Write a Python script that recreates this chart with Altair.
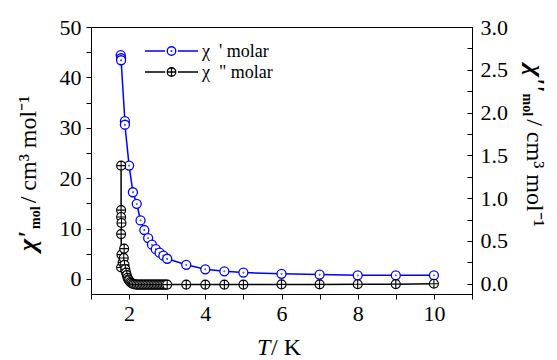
import altair as alt
import pandas as pd

# ---------------- data ----------------
T_real = [1.78, 1.79, 1.79, 1.89, 1.89, 2.0, 2.1, 2.2, 2.3, 2.4, 2.5, 2.6, 2.7, 2.8, 2.9, 3.0,
          3.5, 4.0, 4.5, 5.0, 6.0, 7.0, 8.0, 9.0, 10.0]
chi_real = [44.4, 43.8, 43.4, 31.3, 30.6, 22.5, 17.2, 14.9, 11.6, 9.7, 8.1, 6.8, 5.9, 5.2, 4.6, 4.0,
            2.8, 1.9, 1.5, 1.25, 1.0, 0.85, 0.7, 0.7, 0.7]

T_imag = [1.79, 1.79, 1.79, 1.80, 1.79, 1.80, 1.79, 1.83, 1.87, 1.86, 1.88, 1.90, 1.92, 1.94, 1.96,
          1.98, 2.00, 2.03, 2.06, 2.09,
          2.12, 2.16, 2.20, 2.24, 2.28, 2.32, 2.36, 2.40, 2.44, 2.48, 2.52, 2.56, 2.60, 2.64, 2.68,
          2.72, 2.76, 2.80, 2.84, 2.88, 2.92, 2.96, 3.00,
          3.5, 4.0, 4.5, 5.0, 6.0, 7.0, 8.0, 9.0, 10.0]
chi_imag = [1.38, 0.86, 0.78, 0.71, 0.58, 0.34, 0.19, 0.25, 0.41, 0.30, 0.22, 0.17, 0.13, 0.10, 0.07,
            0.05, 0.04, 0.02, 0.01, 0.00,
            -0.005, -0.008, -0.01, -0.01, -0.01, -0.01, -0.01, -0.01, -0.01, -0.01, -0.01, -0.01,
            -0.01, -0.01, -0.01, -0.01, -0.01, -0.01, -0.01, -0.01, -0.01, -0.01, -0.01,
            -0.01, -0.01, -0.01, -0.01, -0.008, -0.008, -0.006, -0.005, 0.0]

x_ticks = [1, 2, 3, 4, 5, 6, 7, 8, 9, 10, 11]
left_ticks = [0, 5, 10, 15, 20, 25, 30, 35, 40, 45, 50]
right_ticks = [0.0, 0.25, 0.5, 0.75, 1.0, 1.25, 1.5, 1.75, 2.0, 2.25, 2.5, 2.75, 3.0]
series_labels = ["\u03c7\u00a0 ' molar", "\u03c7\u00a0 \" molar"]

FONT = "Liberation Serif, Times New Roman, serif"
BLUE = "#0000ff"
BLACK = "#000000"

df_r = pd.DataFrame({"T": T_real, "v": chi_real, "i": list(range(len(T_real)))})
df_i = pd.DataFrame({"T": T_imag, "v": chi_imag, "i": list(range(len(T_imag)))})

BLUE_SHAPE = "M-1,0A1,1 0 1,0 1,0A1,1 0 1,0 -1,0ZM-0.06,0A0.06,0.06 0 1,0 0.06,0A0.06,0.06 0 1,0 -0.06,0Z"
BLACK_SHAPE = "M-1,0A1,1 0 1,0 1,0A1,1 0 1,0 -1,0ZM-1,0L1,0M0,-1L0,1"
LEG_BLUE = ("M-1,0L-0.24,0M0.24,0L1,0M-0.16,0A0.16,0.16 0 1,0 0.16,0A0.16,0.16 0 1,0 -0.16,0Z"
            "M-0.012,0A0.012,0.012 0 1,0 0.012,0A0.012,0.012 0 1,0 -0.012,0Z")
LEG_BLACK = ("M-1,0L-0.24,0M0.24,0L1,0M-0.16,0A0.16,0.16 0 1,0 0.16,0A0.16,0.16 0 1,0 -0.16,0Z"
             "M-0.16,0L0.16,0M0,-0.16L0,0.16")

x_enc = alt.X("T:Q", scale=alt.Scale(domain=[1, 11], nice=False, zero=False),
              axis=alt.Axis(values=x_ticks, title=None, labelPadding=4, labelFont=FONT,
                            labelExpr="datum.value % 2 == 0 ? datum.label : ''"))
yl_scale = alt.Scale(domain=[-3, 50], nice=False, zero=False)
yr_scale = alt.Scale(domain=[-0.12, 3.0], nice=False, zero=False)

blue_line = alt.Chart(df_r).mark_line(color=BLUE, strokeWidth=1.5).encode(
    x=x_enc, y=alt.Y("v:Q", scale=yl_scale, axis=None), order="i:Q")
blue_pts = alt.Chart(df_r).mark_point(shape=BLUE_SHAPE, size=81, fill="white", stroke=BLUE,
                                      strokeWidth=1.3, opacity=1, fillOpacity=1).encode(
    x=x_enc,
    y=alt.Y("v:Q", scale=yl_scale,
            axis=alt.Axis(orient="left", values=left_ticks, title=None, labelPadding=5, labelFont=FONT,
                          labelExpr="datum.value % 10 == 0 ? datum.label : ''")))
black_line = alt.Chart(df_i).mark_line(color=BLACK, strokeWidth=1.5).encode(
    x=x_enc, y=alt.Y("v:Q", scale=yr_scale, axis=None), order="i:Q")
black_pts = alt.Chart(df_i).mark_point(shape=BLACK_SHAPE, size=81, fill="white", stroke=BLACK,
                                       strokeWidth=1.1, opacity=1, fillOpacity=1).encode(
    x=x_enc,
    y=alt.Y("v:Q", scale=yr_scale,
            axis=alt.Axis(orient="right", values=right_ticks, title=None, labelPadding=8, format=".1f",
                          labelFont=FONT, ticks=False,
                          labelExpr="(datum.value * 2) % 1 == 0 ? datum.label : ''")))
# inward-pointing ticks of the right axis
right_ticks_layer = alt.Chart(df_i).mark_point(opacity=0).encode(
    x=x_enc,
    y=alt.Y("v:Q", scale=yr_scale,
            axis=alt.Axis(orient="right", values=right_ticks, title=None, labels=False, domain=False,
                          ticks=True, tickSize=5, offset=-5)))


def one(s):
    return alt.Chart(pd.DataFrame({"s": [s]}))


def legend_row(label, shape, color, y):
    sym = one(label).mark_point(shape=shape, size=2809, stroke=color, strokeWidth=1.3, fill="white",
                                opacity=1, fillOpacity=1).encode(x=alt.value(80.5), y=alt.value(y))
    lab = one(label).mark_text(font=FONT, fontSize=18, align="left", baseline="middle",
                               color="black").encode(text="s:N", x=alt.value(111), y=alt.value(y + 1))
    return [sym, lab]


legend_layers = legend_row(series_labels[0], LEG_BLUE, BLUE, 24) + legend_row(series_labels[1], LEG_BLACK, BLACK, 45)

WID = {' ': 0.25, '\u00a0': 0.25, '/': 0.278, 'c': 0.444, 'm': 0.778, 'o': 0.5, 'l': 0.278, '3': 0.5,
       '-': 0.333, '1': 0.5, '\u03c7': 0.6, "'": 0.25, 'K': 0.722, 'T': 0.611}


def width(s, size, weight):
    w = 0
    for ch in s:
        c = WID.get(ch, 0.5)
        if weight == "bold" and ch == 'm':
            c = 0.833
        w += c
    return w * size


def txt(s, x, y, size, angle=0, weight="normal", style="normal"):
    return one(s).mark_text(
        font=FONT, fontSize=size, fontWeight=weight, fontStyle=style, angle=angle,
        align="left", baseline="alphabetic", color="black").encode(
        text="s:N", x=alt.value(x), y=alt.value(y))


def vtitle(pieces, x0, y0, angle):
    # angle 270 reads upward (glyph-up = -x), angle 90 reads downward (glyph-up = +x)
    layers = []
    y = y0
    up = -1 if angle == 270 else 1
    step = -1 if angle == 270 else 1
    for s, size, weight, style, shift, gap in pieces:
        layers.append(txt(s, x0 + up * shift, y, size, angle, weight, style))
        y += step * (width(s, size, weight) + gap)
    return layers


NB = "\u00a0"
UNIT = NB + "/" + NB + "cm\u00b3" + NB + "mol\u207b\u00b9"
left_pieces = [("\u03c7'", 26, "bold", "italic", 0, 0), ("mol", 14, "bold", "normal", -4, 3),
               (UNIT, 24, "normal", "normal", 0, 0)]
right_pieces = [("\u03c7''", 26, "bold", "italic", 0, 0), ("mol", 14, "bold", "normal", -4, 3),
                (UNIT, 24, "normal", "normal", 0, 0)]

texts = vtitle(left_pieces, -55, 224, 270) + vtitle(right_pieces, 436, 38, 90)
texts += [txt("T", 166, 328, 24, 0, "normal", "italic"), txt(NB + "/" + NB + "K", 180, 328, 24)]

chart = alt.layer(blue_line, blue_pts, black_line, black_pts, right_ticks_layer,
                  *legend_layers, *texts).resolve_scale(
    y="independent"
).properties(
    width=381, height=267,
    autosize=alt.AutoSizeParams(type="none"),
    padding={"left": 83, "top": 19, "right": 77, "bottom": 66},
).configure_view(stroke="black", strokeWidth=1).configure_axis(
    labelFont=FONT, labelFontSize=22, labelColor="black", domainColor="black", tickColor="black",
    grid=False, tickSize=5, domainWidth=1, tickWidth=1
)

chart.save("out.html", embed_options={"renderer": "svg", "actions": False})
